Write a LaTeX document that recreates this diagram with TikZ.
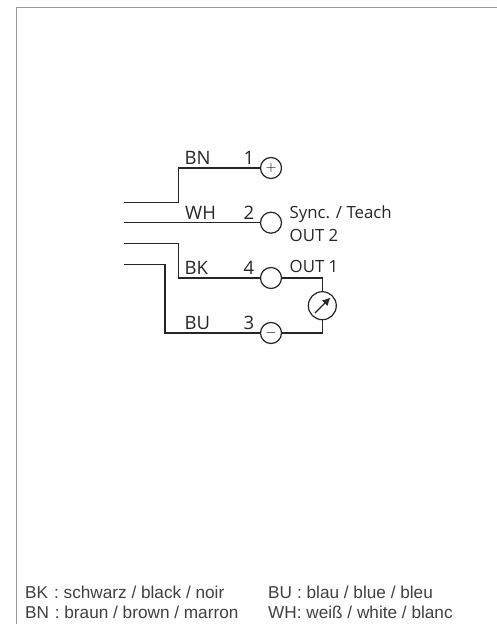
\documentclass[tikz,border=0pt]{standalone}
\usepackage{fontspec}
\setmainfont{Open Sans}
\newfontfamily\legendfont{Liberation Sans}
\usetikzlibrary{arrows.meta}
\definecolor{wirecol}{gray}{0.15}
\tikzset{
  pin/.style={draw=wirecol,circle,line width=1.2pt,minimum size=21pt,inner sep=0pt,font=\fontsize{14}{14}\selectfont},
  wire/.style={draw=wirecol,line width=1.2pt},
  wirelabel/.style={anchor=base west,inner sep=0pt,text=wirecol,font=\fontsize{18.5}{20}\selectfont},
  sidelabel/.style={anchor=base west,inner sep=0pt,text=wirecol,font=\fontsize{16.8}{18}\selectfont},
  legend/.style={anchor=base west,inner sep=0pt,text=black!75,font=\legendfont\fontsize{17.2}{18}\selectfont}
}
\begin{document}
\begin{tikzpicture}[x=1pt,y=-1pt]
\useasboundingbox (0,0) rectangle (497,624);

% Frame of the sheet
\coordinate (frametop) at (16.5,7.5);
\coordinate (frameright) at (497,7.5);
\coordinate (framebottom) at (16.5,624);
\draw[black!40,line width=1pt] (framebottom) -- (frametop) -- (frameright);

% Pins
\node[pin] (pinone) at (271,168) {$+$};
\node[pin] (pintwo) at (271,222.7) {};
\node[pin] (pinfour) at (271,278) {};
\node[pin] (pinthree) at (271,333) {$-$};

% Meter
\node[pin,minimum size=28pt] (meter) at (322.3,305.7) {};
\coordinate (needlelow) at (315,313);
\coordinate (needlehigh) at (330.5,297.5);
\draw[wire,-{Latex[length=8pt,width=8pt]}] (needlelow) -- (needlehigh);

% Free ends of the cable
\coordinate (endbn) at (124,202.3);
\coordinate (endwh) at (124,222.7);
\coordinate (endbk) at (124,243.7);
\coordinate (endbu) at (124,264.3);

% Wires
\draw[wire] (endbn) -- (178.3,202.3) -- (178.3,168) -- (pinone);
\draw[wire] (endwh) -- (pintwo);
\draw[wire] (endbk) -- (178.3,243.7) -- (178.3,278) -- (pinfour);
\draw[wire] (endbu) -- (165,264.3) -- (165,333) -- (pinthree);
\draw[wire] (pinfour) -| (meter);
\draw[wire] (pinthree) -| (meter);

% Wire labels
\node[wirelabel] (labbn) at (184.5,164) {BN};
\node[wirelabel] (labwh) at (185,219) {WH};
\node[wirelabel] (labbk) at (184.5,274) {BK};
\node[wirelabel] (labbu) at (184.5,329) {BU};
\node[wirelabel] (numone) at (243.5,164) {1};
\node[wirelabel] (numtwo) at (243.5,219) {2};
\node[wirelabel] (numfour) at (243.5,274) {4};
\node[wirelabel] (numthree) at (243.5,329) {3};

% Pin functions
\node[sidelabel] (sync) at (289.5,218) {Sync. / Teach};
\node[sidelabel] (outtwo) at (289.5,241.5) {OUT 2};
\node[sidelabel] (outone) at (289.5,272) {OUT 1};

% Colour key
\node[legend] (keybk) at (25,598) {BK\hspace{6pt}: schwarz / black / noir};
\node[legend] (keybn) at (25,618) {BN\hspace{1pt} : braun / brown / marron};
\node[legend] (keybu) at (268,598) {BU\hspace{5pt}: blau / blue / bleu};
\node[legend] (keywh) at (268,618) {WH: weiß / white / blanc};

\end{tikzpicture}
\end{document}
